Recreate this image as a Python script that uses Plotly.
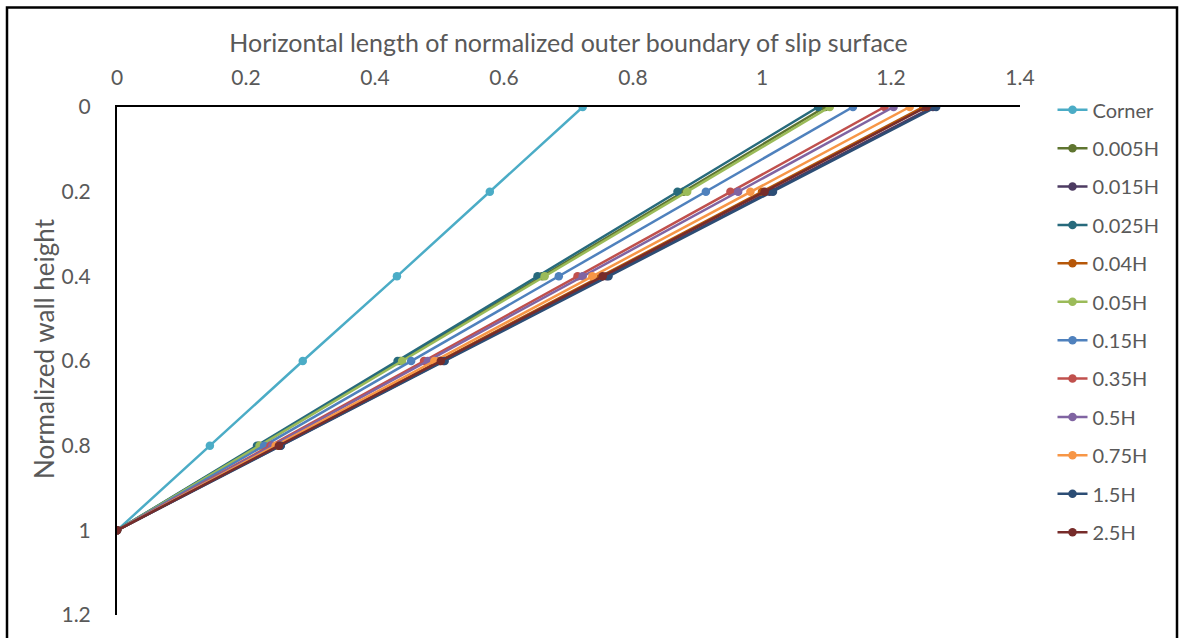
import plotly.graph_objects as go

# Normalized wall height (0 = top, 1 = base)
heights = [0, 0.2, 0.4, 0.6, 0.8, 1]

series_names = ["Corner", "0.005H", "0.015H", "0.025H", "0.04H", "0.05H",
                "0.15H", "0.35H", "0.5H", "0.75H", "1.5H", "2.5H"]

corner = [0.722, 0.578, 0.434, 0.288, 0.144, 0]
h_0005 = [1.098, 0.878, 0.659, 0.439, 0.220, 0]
h_0015 = [1.265, 1.012, 0.759, 0.506, 0.253, 0]
h_0025 = [1.087, 0.869, 0.652, 0.435, 0.217, 0]
h_004 = [1.250, 1.000, 0.750, 0.500, 0.250, 0]
h_005 = [1.105, 0.884, 0.663, 0.442, 0.221, 0]
h_015 = [1.141, 0.913, 0.685, 0.456, 0.228, 0]
h_035 = [1.190, 0.951, 0.714, 0.476, 0.238, 0]
h_05 = [1.204, 0.963, 0.722, 0.482, 0.241, 0]
h_075 = [1.229, 0.982, 0.737, 0.492, 0.246, 0]
h_15 = [1.270, 1.017, 0.762, 0.508, 0.254, 0]
h_25 = [1.255, 1.004, 0.753, 0.502, 0.251, 0]

series_values = [corner, h_0005, h_0015, h_0025, h_004, h_005,
                 h_015, h_035, h_05, h_075, h_15, h_25]

colors = ["#4BACC6", "#5F7530", "#4D3B62", "#276A7C", "#B65708", "#9BBB59",
          "#4F81BD", "#C0504D", "#8064A2", "#F79646", "#2C4D75", "#772C2A"]

x_ticks = [0, 0.2, 0.4, 0.6, 0.8, 1, 1.2, 1.4]
y_ticks = [0, 0.2, 0.4, 0.6, 0.8, 1, 1.2]

FONT = "Lato"
GREY = "#595959"

fig = go.Figure()
for name, vals, col in zip(series_names, series_values, colors):
    fig.add_trace(go.Scatter(
        x=vals, y=heights, name=name, mode="lines+markers",
        legendgroup=name,
        line=dict(color=col, width=2.5),
        marker=dict(color=col, size=8.5),
    ))

fig.update_layout(
    width=1179, height=638,
    margin=dict(l=117, r=159, t=107, b=21),
    paper_bgcolor="white", plot_bgcolor="white",
    font=dict(family=FONT, color=GREY, size=21),
    showlegend=True,
    legend=dict(x=1.036, y=1.033, xanchor="left", yanchor="top",
                font=dict(size=20, color=GREY), tracegroupgap=9.4,
                maxheight=600, bgcolor="rgba(0,0,0,0)"),
    xaxis=dict(
        range=[0, 1.4], side="top", tickvals=x_ticks,
        showgrid=False, zeroline=False, showline=True,
        linecolor="black", linewidth=2, ticks="",
        tickfont=dict(size=21, color=GREY), ticklabelstandoff=12,
        title=dict(text="Horizontal length of normalized outer boundary of slip surface",
                   font=dict(size=25, color=GREY), standoff=4),
    ),
    yaxis=dict(
        range=[1.2, 0], tickvals=y_ticks,
        showgrid=False, zeroline=False, showline=True,
        linecolor="black", linewidth=2, ticks="",
        tickfont=dict(size=21, color=GREY), ticklabelstandoff=20,
    ),
)

# Vertical axis title
fig.add_annotation(
    text="Normalized wall height", textangle=-90,
    xref="paper", yref="paper", x=(44 - 117) / 903, y=(617 - 350) / 510,
    xanchor="center", yanchor="middle", showarrow=False,
    font=dict(size=26, color=GREY, family=FONT),
)

# Outer frame around the chart
fig.add_shape(type="rect", xref="paper", yref="paper",
              x0=(7 - 117) / 903, x1=(1177 - 117) / 903,
              y0=-0.2, y1=(617 - 7) / 510,
              line=dict(color="black", width=2.5), fillcolor="rgba(0,0,0,0)",
              layer="below")

fig.write_html("out.html")
